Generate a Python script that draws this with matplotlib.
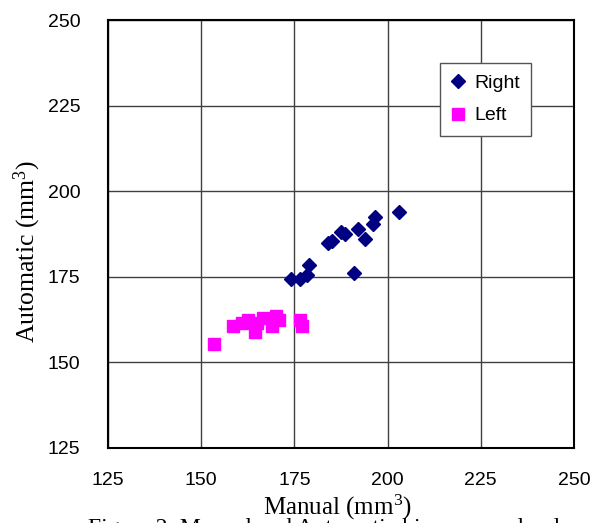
import matplotlib
matplotlib.use("Agg")
import matplotlib.pyplot as plt

plt.rcParams['mathtext.fontset'] = 'custom'
plt.rcParams['mathtext.rm'] = 'Liberation Serif'
plt.rcParams['mathtext.it'] = 'Liberation Serif:italic'

right_manual = [174, 176.5, 178.5, 179, 184, 185, 187.5, 188.5, 191, 192, 194, 196, 196.5, 203]
right_auto = [174.5, 174.5, 175.5, 178.5, 185, 185.5, 188, 187.5, 176, 189, 186, 190.5, 192.5, 194]
left_manual = [153.5, 158.5, 161, 162.5, 164.5, 165, 166.5, 169, 170, 171, 176.5, 177]
left_auto = [155.5, 160.5, 161.5, 162.5, 159, 161.5, 163, 160.5, 163.5, 162.5, 162.5, 160.5]
ticks = [125, 150, 175, 200, 225, 250]

fig = plt.figure(figsize=(5.97, 5.23), dpi=100)
ax = fig.add_axes([108/597, 75/523, 466/597, 428/523])

ax.plot(right_manual, right_auto, linestyle='none', marker='D', markersize=7.2,
        color='#000080', label='Right', zorder=3)
ax.plot(left_manual, left_auto, linestyle='none', marker='s', markersize=8.5,
        color='#FF00FF', label='Left', zorder=3)

ax.set_xlim(125, 250)
ax.set_ylim(125, 250)
ax.set_xticks(ticks)
ax.set_yticks(ticks)
ax.grid(True, color='#404040', linewidth=1.0)
ax.set_axisbelow(True)
for s in ax.spines.values():
    s.set_linewidth(1.5)
    s.set_color('black')
ax.tick_params(length=0, labelsize=14, pad=0)
for lab in ax.get_xticklabels() + ax.get_yticklabels():
    lab.set_fontfamily('Liberation Sans')
ax.tick_params(axis='x', pad=17)
ax.tick_params(axis='y', pad=20)

leg = ax.legend(loc='upper left', bbox_to_anchor=((440-108)/466, (448-63)/428),
                frameon=True, fancybox=False, edgecolor='#555555', framealpha=1,
                prop={'family': 'Liberation Sans', 'size': 14},
                handlelength=0.7, handletextpad=0.45, borderpad=0.6,
                labelspacing=0.75, borderaxespad=0)
leg.get_frame().set_linewidth(1.0)

fig.text(337/597, 1 - 515/523, 'Manual (mm$^3$)', ha='center', va='baseline',
         fontfamily='Liberation Serif', fontsize=18)
fig.text(27/597, 1 - 252/523, 'Automatic (mm$^3$)', ha='center', va='center',
         rotation=90, fontfamily='Liberation Serif', fontsize=18.5)
fig.text(88/597, 1 - 534/523, 'Figure 2: Manual and Automatic hippocampal volumes',
         ha='left', va='baseline', fontfamily='Liberation Serif', fontsize=17)

fig.savefig('out.png', dpi=100)
